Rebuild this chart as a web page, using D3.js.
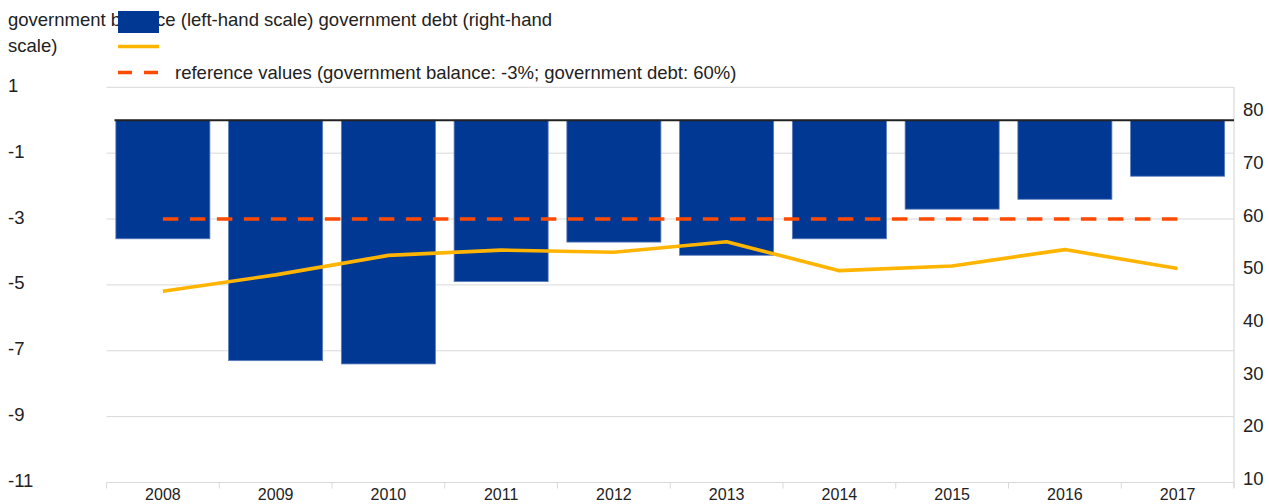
<!DOCTYPE html>
<html>
<head>
<meta charset="utf-8">
<script src="https://cdn.jsdelivr.net/npm/d3@7"></script>
<style>
  html, body { margin: 0; padding: 0; background: #fff; }
  svg { display: block; }
  text { font-family: "Liberation Sans", Arial, sans-serif; fill: #222; }
</style>
</head>
<body>
<svg id="chart" width="1269" height="504"></svg>
<script>
// ---- data ----
const years = ["2008","2009","2010","2011","2012","2013","2014","2015","2016","2017"];
const govBalance = [-3.6, -7.3, -7.4, -4.9, -3.7, -4.1, -3.6, -2.7, -2.4, -1.7];
const govDebt = [46.3, 49.4, 53.1, 54.1, 53.7, 55.7, 50.2, 51.1, 54.2, 50.6];
const refBalance = -3;
const refDebt = 60;
const leftTicks = [1, -1, -3, -5, -7, -9, -11];
const rightTicks = [80, 70, 60, 50, 40, 30, 20, 10];
const legendLine1 = "government balance (left-hand scale) government debt (right-hand";
const legendLine2 = "scale)";
const legendRef = "reference values (government balance: -3%; government debt: 60%)";

// ---- layout ----
const svg = d3.select("#chart");
const plot = { left: 106.5, right: 1234, top: 87.3, bottom: 482.5 };

const x = d3.scaleBand().domain(years).range([plot.left, plot.right])
  .paddingInner(0.166).paddingOuter(0.083);
const step = x.step();
const yL = d3.scaleLinear().domain([-11, 1]).range([plot.bottom, plot.top]);
const yR = d3.scaleLinear().domain([10, 85]).range([plot.bottom, plot.top]);

// gridlines
const grid = svg.append("g");
grid.selectAll("line").data(leftTicks).join("line")
  .attr("x1", plot.left).attr("x2", plot.right)
  .attr("y1", d => yL(d)).attr("y2", d => yL(d))
  .attr("stroke", "#d9d9d9").attr("stroke-width", 1);

// right axis line
svg.append("line")
  .attr("x1", plot.right).attr("x2", plot.right)
  .attr("y1", plot.top).attr("y2", plot.bottom + 5)
  .attr("stroke", "#d9d9d9").attr("stroke-width", 1.2);

// category ticks along bottom
const catBounds = years.map((y, i) => plot.left + i * step).concat([plot.right]);
svg.append("g").selectAll("line").data(catBounds).join("line")
  .attr("x1", d => d).attr("x2", d => d)
  .attr("y1", plot.bottom).attr("y2", plot.bottom + 6)
  .attr("stroke", "#d9d9d9").attr("stroke-width", 1);

// bars
svg.append("g").selectAll("rect").data(years).join("rect")
  .attr("x", d => x(d))
  .attr("width", x.bandwidth())
  .attr("y", yL(0))
  .attr("height", (d, i) => yL(govBalance[i]) - yL(0))
  .attr("fill", "#003894")
  .attr("stroke", "#5b7bbd").attr("stroke-width", 0.8);

// zero line
svg.append("line")
  .attr("x1", plot.left + 8).attr("x2", plot.right)
  .attr("y1", yL(0)).attr("y2", yL(0))
  .attr("stroke", "#222").attr("stroke-width", 2);

// reference dashed line
svg.append("line")
  .attr("x1", x(years[0]) + x.bandwidth() / 2)
  .attr("x2", x(years[years.length - 1]) + x.bandwidth() / 2)
  .attr("y1", yR(refDebt)).attr("y2", yR(refDebt))
  .attr("stroke", "#ff4b00").attr("stroke-width", 3.6)
  .attr("stroke-dasharray", "15.5 11.5");

// debt line
const line = d3.line()
  .x((d, i) => x(years[i]) + x.bandwidth() / 2)
  .y(d => yR(d));
svg.append("path").datum(govDebt)
  .attr("d", line)
  .attr("fill", "none")
  .attr("stroke", "#ffb400").attr("stroke-width", 3.6)
  .attr("stroke-linejoin", "round");

// left axis labels
svg.append("g").selectAll("text").data(leftTicks).join("text")
  .attr("x", 8).attr("y", d => yL(d) - 2)
  .attr("dy", "0.35em")
  .attr("font-size", 18.5)
  .text(d => d);

// right axis labels
svg.append("g").selectAll("text").data(rightTicks).join("text")
  .attr("x", 1243).attr("y", d => yR(d) - 4)
  .attr("dy", "0.35em")
  .attr("font-size", 18.5)
  .text(d => d);

// x axis labels
svg.append("g").selectAll("text").data(years).join("text")
  .attr("x", d => x(d) + x.bandwidth() / 2)
  .attr("y", 494).attr("dy", "0.35em")
  .attr("text-anchor", "middle")
  .attr("font-size", 16)
  .text(d => d);

// legend
svg.append("text").attr("x", 8).attr("y", 20).attr("dy", "0.35em")
  .attr("font-size", 18.5).text(legendLine1);
svg.append("text").attr("x", 8).attr("y", 46).attr("dy", "0.35em")
  .attr("font-size", 18.5).text(legendLine2);
svg.append("rect").attr("x", 118).attr("y", 11).attr("width", 41).attr("height", 22)
  .attr("fill", "#003894");
svg.append("line").attr("x1", 118).attr("x2", 159).attr("y1", 46.5).attr("y2", 46.5)
  .attr("stroke", "#ffb400").attr("stroke-width", 3.6);
svg.append("line").attr("x1", 118).attr("x2", 159).attr("y1", 72.5).attr("y2", 72.5)
  .attr("stroke", "#ff4b00").attr("stroke-width", 3.6).attr("stroke-dasharray", "14 12");
svg.append("text").attr("x", 175).attr("y", 73).attr("dy", "0.35em")
  .attr("font-size", 18.5).text(legendRef);
</script>
</body>
</html>
